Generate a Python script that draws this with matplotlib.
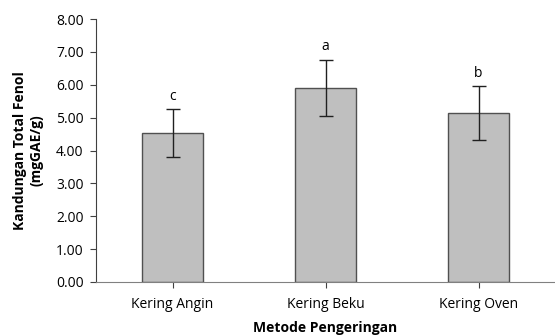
import matplotlib.pyplot as plt
import numpy as np

plt.rcParams["font.family"] = ["Open Sans", "DejaVu Sans"]

# data
methods = ["Kering Angin", "Kering Beku", "Kering Oven"]
phenol = [4.52, 5.91, 5.14]
sd = [0.73, 0.86, 0.81]
letters = ["c", "a", "b"]

fig = plt.figure(figsize=(5.55, 3.36), dpi=100)
ax = fig.add_axes([0.173, 0.161, 0.827, 0.782])

x = np.arange(len(methods))
ax.bar(x, phenol, width=0.4, color="#bfbfbf", edgecolor="#505050", linewidth=1.0)
ax.errorbar(x, phenol, yerr=sd, fmt="none", ecolor="#202020",
            elinewidth=1.0, capsize=5, capthick=1.0)

for xi, v, s, lab in zip(x, phenol, sd, letters):
    ax.text(xi, v + s + 0.18, lab, ha="center", va="bottom", fontsize=10)

ax.set_xlim(-0.5, 2.5)
ax.set_ylim(0, 8)
ax.set_yticks(np.arange(0, 9, 1))
ax.set_yticklabels(["%.2f" % t for t in np.arange(0, 9, 1)])
ax.set_xticks(x)
ax.set_xticklabels(methods)
ax.tick_params(axis="both", labelsize=10, direction="out", length=4, color="#404040")
ax.tick_params(axis="x", pad=7)
ax.tick_params(axis="y", pad=5)

for side in ["top", "right"]:
    ax.spines[side].set_visible(False)
ax.spines["left"].set_color("#404040")
ax.spines["bottom"].set_color("#808080")

ax.set_xlabel("Metode Pengeringan", fontsize=10, fontweight="bold", labelpad=6)
ax.set_ylabel("Kandungan Total Fenol\n(mgGAE/g)", fontsize=10, fontweight="bold", labelpad=9)

fig.savefig("out.png", dpi=100)
